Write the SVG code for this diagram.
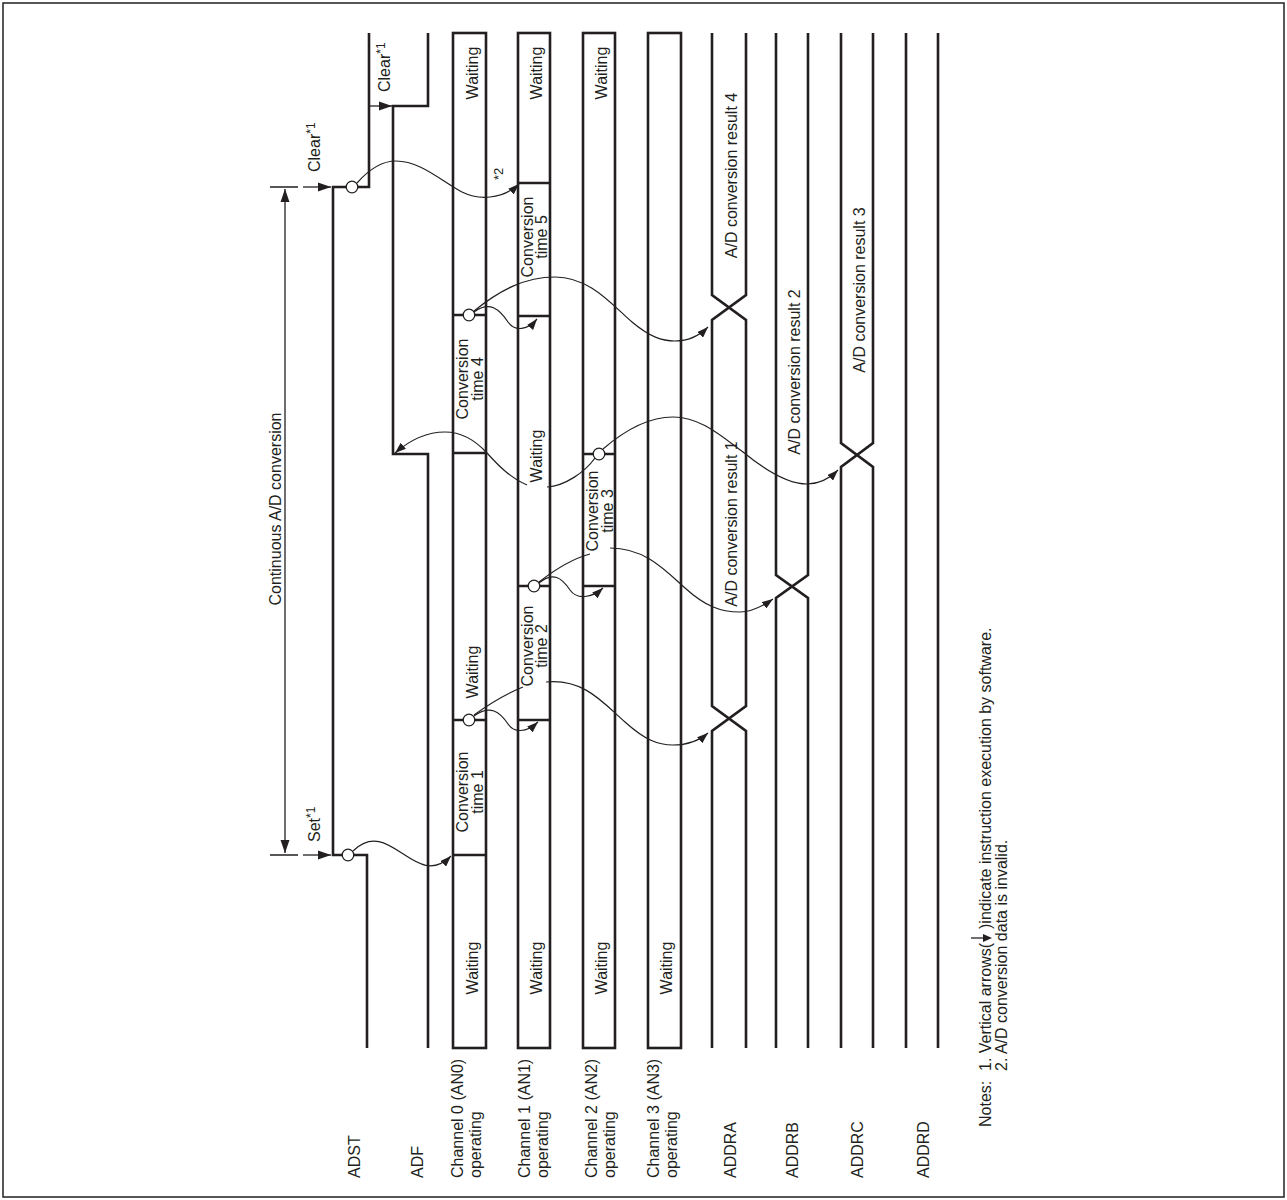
<svg xmlns="http://www.w3.org/2000/svg" width="1287" height="1200" viewBox="0 0 1287 1200">
<style>
.t{font-family:"Liberation Sans",Arial,Helvetica,sans-serif;font-size:16px;fill:#231f20}
.m{text-anchor:middle}
.thick{fill:none;stroke:#231f20;stroke-width:2.6;stroke-linejoin:miter}
.box{fill:#fff;stroke:#231f20;stroke-width:2.6}
.curve{fill:none;stroke:#231f20;stroke-width:1.2}
.thin{fill:none;stroke:#231f20;stroke-width:1.3}
.circ{fill:#fff;stroke:#231f20;stroke-width:1.3}
</style>
<defs>
<marker id="ah" markerUnits="userSpaceOnUse" markerWidth="12" markerHeight="8" refX="11" refY="4" orient="auto"><path d="M0,0 L11,4 L0,8 z" fill="#231f20"/></marker>
<marker id="ahL" markerUnits="userSpaceOnUse" markerWidth="13" markerHeight="10" refX="13" refY="5" orient="auto-start-reverse"><path d="M0,0.5 L13,5 L0,9.5 z" fill="#231f20"/></marker>
</defs>
<rect x="3" y="3" width="1281" height="1194" fill="none" stroke="#231f20" stroke-width="1.5"/>

<g id="ADST">
<path class="thick" d="M367,1048 V855 H333 V187 H369 V33"/>
<text class="t" transform="translate(360,1178) rotate(-90)">ADST</text>
</g>
<g id="ADF">
<path class="thick" d="M428,1048 V454 H393 V106 H428 V33"/>
<text class="t" transform="translate(423,1178) rotate(-90)">ADF</text>
</g>

<g id="CH0">
<rect class="box" x="453" y="33" width="33" height="1015"/>
<path class="thick" d="M453,855 H486 M453,720 H486 M453,453 H486 M453,315 H486"/>
<text class="t m" transform="translate(478,73) rotate(-90)">Waiting</text>
<text class="t m" transform="translate(468,379) rotate(-90)">Conversion</text>
<text class="t m" transform="translate(483,379) rotate(-90)">time 4</text>
<text class="t m" transform="translate(478,672) rotate(-90)">Waiting</text>
<text class="t m" transform="translate(468,792) rotate(-90)">Conversion</text>
<text class="t m" transform="translate(483,792) rotate(-90)">time 1</text>
<text class="t m" transform="translate(478,968) rotate(-90)">Waiting</text>
<text class="t" transform="translate(463,1178) rotate(-90)">Channel 0 (AN0)</text>
<text class="t" transform="translate(481,1178) rotate(-90)">operating</text>
</g>
<g id="CH1">
<rect class="box" x="518" y="33" width="32" height="1015"/>
<path class="thick" d="M518,720 H550 M518,586 H550 M518,316 H550 M518,183 H550"/>
<text class="t m" transform="translate(542,73) rotate(-90)">Waiting</text>
<text class="t m" transform="translate(533,237) rotate(-90)">Conversion</text>
<text class="t m" transform="translate(547,237) rotate(-90)">time 5</text>
<text class="t m" transform="translate(542,456) rotate(-90)">Waiting</text>
<text class="t m" transform="translate(533,646) rotate(-90)">Conversion</text>
<text class="t m" transform="translate(547,646) rotate(-90)">time 2</text>
<text class="t m" transform="translate(542,968) rotate(-90)">Waiting</text>
<text class="t" transform="translate(530,1178) rotate(-90)">Channel 1 (AN1)</text>
<text class="t" transform="translate(548,1178) rotate(-90)">operating</text>
</g>
<g id="CH2">
<rect class="box" x="583" y="33" width="32" height="1015"/>
<path class="thick" d="M583,586 H615 M583,454 H615"/>
<text class="t m" transform="translate(607,73) rotate(-90)">Waiting</text>
<text class="t m" transform="translate(598,511) rotate(-90)">Conversion</text>
<text class="t m" transform="translate(613,511) rotate(-90)">time 3</text>
<text class="t m" transform="translate(607,968) rotate(-90)">Waiting</text>
<text class="t" transform="translate(597,1178) rotate(-90)">Channel 2 (AN2)</text>
<text class="t" transform="translate(615,1178) rotate(-90)">operating</text>
</g>
<g id="CH3">
<rect class="box" x="648" y="33" width="33" height="1015"/>
<text class="t m" transform="translate(672,968) rotate(-90)">Waiting</text>
<text class="t" transform="translate(659,1178) rotate(-90)">Channel 3 (AN3)</text>
<text class="t" transform="translate(677,1178) rotate(-90)">operating</text>
</g>

<g id="ADDRA">
<path class="thick" d="M712,33 V295 L746,320 V706 L712,731 V1048 M746,33 V295 L712,320 V706 L746,731 V1048"/>
<text class="t m" transform="translate(737,175.5) rotate(-90)">A/D conversion result 4</text>
<text class="t m" transform="translate(737,524) rotate(-90)">A/D conversion result 1</text>
<text class="t" transform="translate(736,1178) rotate(-90)">ADDRA</text>
</g>
<g id="ADDRB">
<path class="thick" d="M776,33 V575 L808,598 V1048 M808,33 V575 L776,598 V1048"/>
<text class="t m" transform="translate(800,372) rotate(-90)">A/D conversion result 2</text>
<text class="t" transform="translate(798,1178) rotate(-90)">ADDRB</text>
</g>
<g id="ADDRC">
<path class="thick" d="M841,33 V443 L873,467 V1048 M873,33 V443 L841,467 V1048"/>
<text class="t m" transform="translate(865,290) rotate(-90)">A/D conversion result 3</text>
<text class="t" transform="translate(863,1178) rotate(-90)">ADDRC</text>
</g>
<g id="ADDRD">
<path class="thick" d="M906,33 V1048 M938,33 V1048"/>
<text class="t" transform="translate(929,1178) rotate(-90)">ADDRD</text>
</g>

<g id="annotations">
<path class="thin" d="M270,187 H298 M270,855 H298"/>
<path class="thin" d="M303,187 H331" marker-end="url(#ahL)"/>
<path class="thin" d="M303,855 H331" marker-end="url(#ahL)"/>
<path class="thin" d="M369,106 H392" marker-end="url(#ahL)"/>
<path class="thin" d="M285,189 V853" marker-start="url(#ahL)" marker-end="url(#ahL)"/>
<text class="t m" transform="translate(281,509) rotate(-90)">Continuous A/D conversion</text>
<text class="t" transform="translate(320,172) rotate(-90)">Clear<tspan font-size="12" dy="-5">*1</tspan></text>
<text class="t" transform="translate(390,92) rotate(-90)">Clear<tspan font-size="12" dy="-5">*1</tspan></text>
<text class="t" transform="translate(320,842) rotate(-90)">Set<tspan font-size="12" dy="-5">*1</tspan></text>
<text class="t" style="font-size:13px" transform="translate(503,180) rotate(-90)">*2</text>
</g>

<g id="connectors">
<path class="curve" d="M353,851 C390,815 415,892 451,856" marker-end="url(#ah)"/>
<path class="curve" d="M474,716 C490,704 500,712 508,724 C514,733 526,733 538,722" marker-end="url(#ah)"/>
<path class="curve" d="M474,715 C492,702 508,693 523,687"/>
<path class="curve" d="M546,682 C585,678 605,705 625,722 C645,740 658,745 673,745 C688,745 700,740 708,733" marker-end="url(#ah)"/>
<path class="curve" d="M539,583 C553,571 562,578 570,590 C577,600 592,598 603,588" marker-end="url(#ah)"/>
<path class="curve" d="M539,582 C557,568 575,558 590,554"/>
<path class="curve" d="M610,548 C645,548 665,570 685,588 C705,606 720,612 740,612 C752,612 763,606 773,599" marker-end="url(#ah)"/>
<path class="curve" d="M595,458 C585,472 565,486 547,487"/>
<path class="curve" d="M527,485 C510,478 497,464 487,453 C475,440 460,432 445,432 C428,432 410,440 395,453" marker-end="url(#ah)"/>
<path class="curve" d="M603,449 C625,430 650,417 673,417 C700,417 720,435 743,452 C765,470 787,484 807,484 C820,484 830,478 838,470" marker-end="url(#ah)"/>
<path class="curve" d="M474,312 C490,300 500,310 508,322 C515,332 528,330 537,319" marker-end="url(#ah)"/>
<path class="curve" d="M474,311 C500,290 525,277 555,277 C590,277 612,305 632,322 C650,337 662,341 675,341 C690,341 700,335 708,327" marker-end="url(#ah)"/>
<path class="curve" d="M357,183 C372,166 384,161 396,161 C420,161 440,180 462,192 C478,200 502,200 519,184" marker-end="url(#ah)"/>
<circle class="circ" cx="348" cy="855" r="5.8"/>
<circle class="circ" cx="352" cy="187" r="5.8"/>
<circle class="circ" cx="469" cy="720" r="5.8"/>
<circle class="circ" cx="534" cy="586" r="5.8"/>
<circle class="circ" cx="599" cy="454" r="5.8"/>
<circle class="circ" cx="469" cy="315" r="5.8"/>
</g>

<g id="notes">
<text class="t" transform="translate(991,1127) rotate(-90)">Notes:</text>
<text class="t" transform="translate(991,1071) rotate(-90)">1. Vertical arrows(</text>
<path class="thin" d="M971,938 H984"/>
<path d="M983,934 L992,938 L983,942 z" fill="#231f20"/>
<text class="t" transform="translate(991,929) rotate(-90)">)indicate instruction execution by software.</text>
<text class="t" transform="translate(1007,1071) rotate(-90)">2. A/D conversion data is invalid.</text>
</g>
</svg>
